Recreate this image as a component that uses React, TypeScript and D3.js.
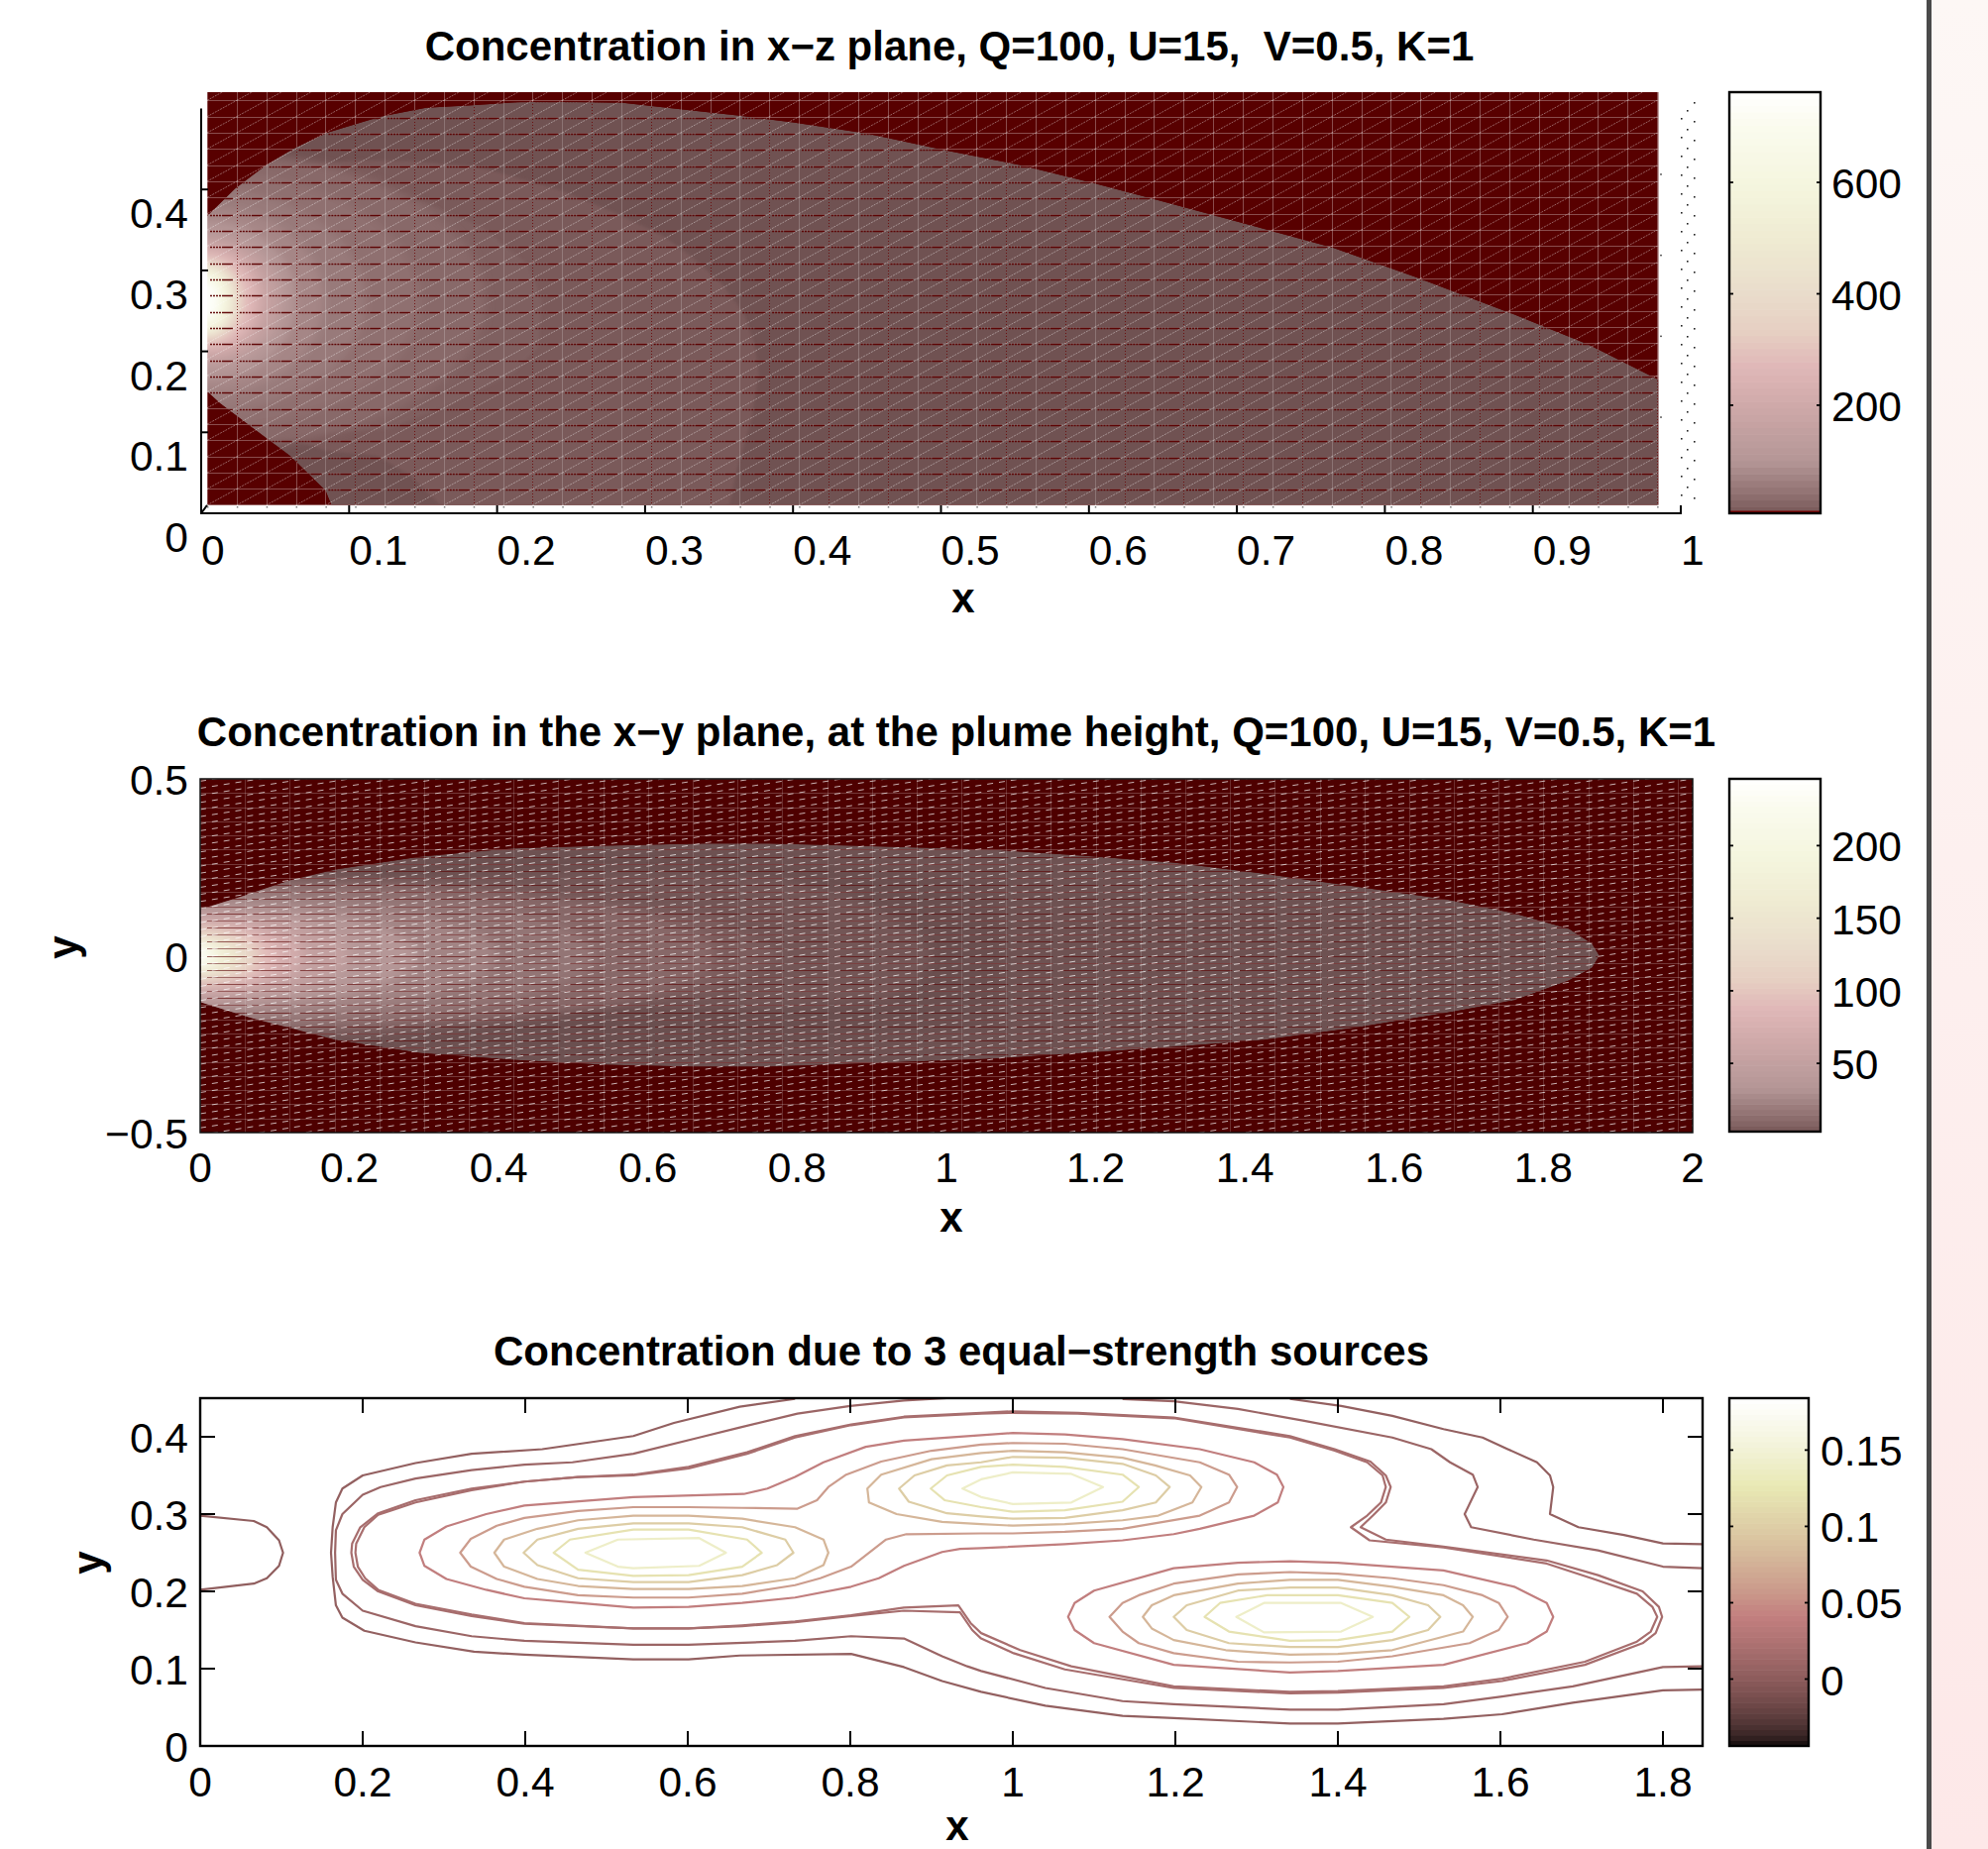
import React from "react";
import * as d3 from "d3";

type Pt = [number, number];

const xzTicksX = [0, 0.1, 0.2, 0.3, 0.4, 0.5, 0.6, 0.7, 0.8, 0.9, 1];
const xzTicksZ = [0.1, 0.2, 0.3, 0.4];
const xyTicksX = [0, 0.2, 0.4, 0.6, 0.8, 1, 1.2, 1.4, 1.6, 1.8, 2];
const xyTicksY = [-0.5, 0, 0.5];
const multiTicksX = [0, 0.2, 0.4, 0.6, 0.8, 1, 1.2, 1.4, 1.6, 1.8];
const multiTicksY = [0, 0.1, 0.2, 0.3, 0.4];
const xzBarTicks = [200, 400, 600];
const xyBarTicks = [50, 100, 150, 200];
const multiBarTicks = [0, 0.05, 0.1, 0.15];

const titleXZ = "Concentration in x\u2212z plane, Q=100, U=15,  V=0.5, K=1";
const titleXY = "Concentration in the x\u2212y plane, at the plume height, Q=100, U=15, V=0.5, K=1";
const titleMulti = "Concentration due to 3 equal\u2212strength sources";

// colour bar of the two surfaces, as fraction of range -> colour
const surfaceStopT = [0, 0.045, 0.124, 0.257, 0.35, 0.43, 0.52, 0.65, 0.785, 0.92, 1];
const surfaceStopColor = ["#785858", "#8f7070", "#b49696", "#cfa9a9", "#e0b8b8", "#e6cfc2", "#e9dccb", "#efebd2", "#f5f6df", "#fafbee", "#ffffff"];

// x-z surface: level regions
const xzPlume: Pt[] = [[0.004,0.367],[0.023,0.401],[0.044,0.43],[0.062,0.45],[0.085,0.47],[0.121,0.49],[0.152,0.501],[0.183,0.504],[0.216,0.508],[0.255,0.508],[0.285,0.507],[0.324,0.499],[0.364,0.491],[0.4,0.483],[0.45,0.469],[0.504,0.448],[0.554,0.43],[0.603,0.408],[0.646,0.387],[0.703,0.359],[0.765,0.328],[0.822,0.291],[0.884,0.248],[0.938,0.208],[0.985,0.165],[0.985,0.01],[0.088,0.01],[0.084,0.028],[0.06,0.071],[0.031,0.111],[0.013,0.136],[0.004,0.151]];
const xzMid: Pt[] = [[0.008,0.371],[0.023,0.389],[0.044,0.414],[0.065,0.43],[0.106,0.436],[0.141,0.435],[0.185,0.428],[0.211,0.416],[0.244,0.398],[0.28,0.371],[0.311,0.344],[0.332,0.316],[0.352,0.283],[0.367,0.246],[0.374,0.209],[0.377,0.173],[0.372,0.116],[0.362,0.055],[0.357,0.01],[0.162,0.01],[0.141,0.047],[0.119,0.071],[0.085,0.077],[0.062,0.092],[0.036,0.104],[0.013,0.136],[0.004,0.15],[0.004,0.367]];
const xzInner: Pt[] = [[0.004,0.361],[0.023,0.383],[0.044,0.401],[0.1,0.393],[0.152,0.383],[0.19,0.353],[0.221,0.307],[0.23,0.263],[0.228,0.206],[0.211,0.173],[0.165,0.132],[0.126,0.104],[0.075,0.099],[0.036,0.12],[0.004,0.155]];
const xzSource = { x: 0.004, z: 0.263 };
const xzHotValue = [30, 40, 55, 75, 100, 150, 200, 270, 400, 600, 740];
const xzHotRx = [0.188, 0.144, 0.107, 0.079, 0.06, 0.05, 0.04, 0.033, 0.024, 0.016, 0.008];
const xzHotRz = [0.184, 0.159, 0.137, 0.116, 0.098, 0.08, 0.07, 0.06, 0.05, 0.04, 0.025];

// x-y surface: level regions
const xyPlume: Pt[] = [[0.001,0.132],[0.065,0.174],[0.12,0.213],[0.181,0.244],[0.295,0.28],[0.417,0.303],[0.539,0.311],[0.675,0.317],[0.762,0.317],[0.878,0.311],[1.06,0.3],[1.182,0.283],[1.304,0.263],[1.425,0.232],[1.547,0.196],[1.669,0.16],[1.761,0.12],[1.834,0.076],[1.865,0.034],[1.875,0],[1.865,-0.034],[1.834,-0.07],[1.761,-0.126],[1.669,-0.162],[1.547,-0.204],[1.425,-0.238],[1.304,-0.258],[1.182,-0.275],[1.06,-0.291],[0.878,-0.305],[0.762,-0.314],[0.662,-0.314],[0.539,-0.308],[0.417,-0.294],[0.295,-0.275],[0.181,-0.238],[0.12,-0.204],[0.065,-0.174],[0.001,-0.132]];
const xyBand: Pt[] = [[0.12,0.2],[0.235,0.244],[0.356,0.269],[0.539,0.283],[0.675,0.28],[0.845,0.252],[1.06,0.21],[1.073,0],[1.06,-0.21],[0.845,-0.244],[0.675,-0.266],[0.539,-0.272],[0.356,-0.252],[0.235,-0.218],[0.12,-0.185]];
const xyMid: Pt[] = [[0,0.11],[0.12,0.18],[0.235,0.21],[0.356,0.23],[0.539,0.238],[0.675,0.232],[0.78,0.215],[0.874,0.168],[0.96,0.07],[0.983,0],[0.96,-0.07],[0.92,-0.126],[0.75,-0.146],[0.412,-0.146],[0.242,-0.13],[0.072,-0.085],[0,-0.11]];
const xyInner: Pt[] = [[0,0.098],[0.12,0.14],[0.303,0.168],[0.529,0.154],[0.69,0.112],[0.78,0],[0.69,-0.098],[0.529,-0.14],[0.303,-0.154],[0.12,-0.13],[0,-0.098]];
const xySource = { x: 0, y: 0 };
const xyHotValue = [10, 16, 24, 34, 50, 70, 90, 110, 130, 160, 200, 240];
const xyHotRx = [0.69, 0.531, 0.398, 0.292, 0.199, 0.139, 0.106, 0.082, 0.066, 0.05, 0.029, 0.013];
const xyHotRy = [0.224, 0.202, 0.174, 0.146, 0.123, 0.101, 0.087, 0.076, 0.064, 0.05, 0.039, 0.022];

// three-source contours, each line as [x, y]
const lobeNearOrigin: Pt[] = [[0,0.298],[0.066,0.291],[0.082,0.283],[0.097,0.266],[0.102,0.25],[0.097,0.233],[0.082,0.217],[0.066,0.21],[0,0.202]];
const outerMain: Pt[] = [[0.732,0.449],[0.664,0.439],[0.583,0.418],[0.533,0.401],[0.421,0.384],[0.334,0.378],[0.265,0.366],[0.2,0.35],[0.175,0.333],[0.167,0.315],[0.163,0.283],[0.161,0.25],[0.163,0.219],[0.167,0.182],[0.175,0.166],[0.202,0.149],[0.265,0.134],[0.337,0.122],[0.399,0.118],[0.533,0.112],[0.601,0.112],[0.664,0.117],[0.801,0.119],[0.866,0.102],[0.913,0.084],[0.961,0.07],[1.04,0.052],[1.135,0.039],[1.198,0.036],[1.341,0.029],[1.4,0.029],[1.53,0.035],[1.602,0.041],[1.689,0.056],[1.8,0.072],[1.851,0.073]];
const outerRight: Pt[] = [[1.341,0.449],[1.404,0.44],[1.467,0.427],[1.53,0.41],[1.578,0.399],[1.609,0.384],[1.645,0.367],[1.661,0.35],[1.665,0.335],[1.661,0.3],[1.696,0.283],[1.752,0.273],[1.8,0.262],[1.851,0.261]];
const secondMain: Pt[] = [[0.919,0.45],[0.866,0.447],[0.8,0.44],[0.735,0.43],[0.664,0.412],[0.614,0.399],[0.533,0.378],[0.458,0.367],[0.399,0.364],[0.334,0.357],[0.265,0.346],[0.222,0.335],[0.2,0.325],[0.175,0.3],[0.167,0.279],[0.166,0.25],[0.167,0.215],[0.175,0.197],[0.2,0.175],[0.265,0.155],[0.334,0.142],[0.399,0.136],[0.533,0.131],[0.601,0.131],[0.732,0.136],[0.801,0.142],[0.866,0.139],[0.913,0.116],[0.944,0.103],[0.961,0.097],[1.04,0.075],[1.135,0.058],[1.198,0.054],[1.341,0.047],[1.4,0.047],[1.53,0.054],[1.602,0.064],[1.689,0.077],[1.8,0.102],[1.851,0.103]];
const secondRight: Pt[] = [[1.135,0.449],[1.198,0.446],[1.277,0.436],[1.357,0.421],[1.467,0.399],[1.515,0.384],[1.538,0.367],[1.566,0.351],[1.572,0.335],[1.556,0.3],[1.564,0.283],[1.641,0.267],[1.72,0.253],[1.8,0.232],[1.851,0.23]];
const pairOuter: Pt[] = [[0.961,0.431],[0.866,0.426],[0.801,0.416],[0.732,0.401],[0.673,0.38],[0.601,0.361],[0.533,0.351],[0.465,0.348],[0.399,0.342],[0.334,0.333],[0.265,0.318],[0.219,0.301],[0.197,0.283],[0.187,0.262],[0.186,0.25],[0.189,0.232],[0.2,0.215],[0.219,0.2],[0.265,0.182],[0.334,0.168],[0.399,0.158],[0.533,0.152],[0.601,0.152],[0.667,0.155],[0.732,0.16],[0.801,0.168],[0.866,0.175],[0.935,0.173],[0.95,0.15],[0.961,0.139],[1.001,0.12],[1.064,0.099],[1.198,0.075],[1.341,0.068],[1.4,0.069],[1.53,0.075],[1.602,0.084],[1.704,0.105],[1.775,0.133],[1.791,0.146],[1.799,0.167],[1.795,0.18],[1.775,0.2],[1.72,0.221],[1.657,0.24],[1.53,0.258],[1.459,0.267],[1.428,0.283],[1.443,0.298],[1.459,0.315],[1.465,0.335],[1.459,0.35],[1.44,0.368],[1.396,0.384],[1.341,0.401],[1.198,0.425],[1.08,0.431],[1,0.433]];
const pairInner: Pt[] = [[0.961,0.43],[0.866,0.425],[0.801,0.415],[0.732,0.399],[0.673,0.378],[0.601,0.359],[0.533,0.35],[0.465,0.348],[0.399,0.342],[0.334,0.331],[0.265,0.315],[0.219,0.299],[0.202,0.283],[0.192,0.262],[0.191,0.25],[0.194,0.232],[0.203,0.217],[0.219,0.202],[0.265,0.184],[0.334,0.17],[0.399,0.159],[0.533,0.152],[0.601,0.152],[0.667,0.156],[0.732,0.161],[0.801,0.169],[0.866,0.179],[0.933,0.182],[0.948,0.159],[0.961,0.146],[1.009,0.124],[1.072,0.103],[1.198,0.077],[1.341,0.07],[1.4,0.071],[1.53,0.077],[1.602,0.087],[1.704,0.109],[1.768,0.135],[1.785,0.148],[1.793,0.167],[1.787,0.18],[1.768,0.197],[1.712,0.217],[1.657,0.236],[1.53,0.257],[1.439,0.266],[1.416,0.283],[1.436,0.298],[1.453,0.315],[1.459,0.335],[1.455,0.35],[1.436,0.367],[1.396,0.382],[1.341,0.399],[1.198,0.424],[1.08,0.43],[1,0.431]];
const dTwoPeaks: Pt[] = [[0.961,0.402],[0.866,0.395],[0.819,0.387],[0.767,0.367],[0.732,0.348],[0.698,0.333],[0.669,0.326],[0.533,0.322],[0.399,0.311],[0.352,0.3],[0.303,0.284],[0.276,0.267],[0.27,0.25],[0.276,0.233],[0.303,0.216],[0.352,0.202],[0.399,0.191],[0.465,0.185],[0.533,0.179],[0.601,0.18],[0.667,0.185],[0.732,0.192],[0.801,0.206],[0.835,0.217],[0.866,0.233],[0.913,0.251],[0.935,0.255],[0.961,0.256],[1.064,0.261],[1.135,0.266],[1.198,0.274],[1.23,0.281],[1.297,0.298],[1.326,0.315],[1.333,0.335],[1.325,0.351],[1.297,0.367],[1.23,0.384],[1.135,0.397],[1.064,0.403],[1,0.405]];
const dThird: Pt[] = [[1.068,0.167],[1.076,0.185],[1.1,0.201],[1.198,0.23],[1.277,0.237],[1.341,0.239],[1.4,0.237],[1.53,0.227],[1.617,0.206],[1.657,0.185],[1.665,0.167],[1.657,0.148],[1.633,0.133],[1.53,0.105],[1.4,0.097],[1.341,0.095],[1.198,0.105],[1.1,0.133],[1.076,0.15]];
const eTwoPeaks: Pt[] = [[0.32,0.25],[0.333,0.268],[0.365,0.285],[0.399,0.295],[0.465,0.304],[0.533,0.309],[0.601,0.309],[0.667,0.308],[0.735,0.307],[0.759,0.318],[0.773,0.335],[0.795,0.351],[0.838,0.368],[0.9,0.382],[0.961,0.39],[1,0.392],[1.064,0.391],[1.135,0.384],[1.23,0.367],[1.266,0.351],[1.276,0.335],[1.266,0.315],[1.23,0.298],[1.135,0.281],[1.064,0.277],[1,0.275],[0.961,0.275],[0.869,0.274],[0.844,0.267],[0.801,0.232],[0.763,0.217],[0.732,0.208],[0.667,0.197],[0.601,0.192],[0.533,0.192],[0.465,0.195],[0.399,0.206],[0.365,0.216],[0.333,0.232]];
const eThird: Pt[] = [[1.119,0.167],[1.135,0.185],[1.155,0.195],[1.198,0.21],[1.277,0.222],[1.341,0.225],[1.4,0.223],[1.467,0.217],[1.53,0.208],[1.578,0.195],[1.598,0.185],[1.609,0.167],[1.598,0.15],[1.562,0.133],[1.467,0.116],[1.4,0.109],[1.341,0.108],[1.277,0.109],[1.198,0.12],[1.155,0.133],[1.135,0.148]];
const fFirst: Pt[] = [[0.362,0.25],[0.374,0.267],[0.415,0.281],[0.465,0.292],[0.533,0.298],[0.601,0.298],[0.667,0.294],[0.732,0.283],[0.767,0.267],[0.773,0.25],[0.767,0.234],[0.732,0.217],[0.667,0.207],[0.601,0.203],[0.533,0.203],[0.465,0.207],[0.415,0.216],[0.374,0.232]];
const fSecond: Pt[] = [[0.821,0.333],[0.838,0.351],[0.9,0.371],[0.961,0.379],[1,0.382],[1.064,0.38],[1.135,0.373],[1.175,0.363],[1.218,0.35],[1.232,0.335],[1.221,0.315],[1.179,0.298],[1.135,0.292],[1.064,0.287],[1,0.285],[0.961,0.287],[0.913,0.29],[0.857,0.3],[0.823,0.315]];
const fThird: Pt[] = [[1.16,0.167],[1.171,0.182],[1.198,0.195],[1.277,0.21],[1.341,0.215],[1.4,0.215],[1.467,0.206],[1.53,0.195],[1.554,0.182],[1.566,0.167],[1.554,0.148],[1.467,0.124],[1.4,0.119],[1.341,0.118],[1.262,0.124],[1.198,0.137],[1.171,0.152]];
const gFirst: Pt[] = [[0.398,0.25],[0.415,0.267],[0.465,0.281],[0.533,0.288],[0.601,0.288],[0.667,0.283],[0.72,0.267],[0.73,0.25],[0.71,0.234],[0.667,0.221],[0.601,0.212],[0.533,0.212],[0.465,0.217],[0.415,0.234]];
const gSecond: Pt[] = [[0.86,0.333],[0.879,0.35],[0.919,0.363],[0.961,0.367],[1,0.374],[1.064,0.373],[1.135,0.365],[1.176,0.35],[1.193,0.335],[1.176,0.315],[1.135,0.305],[1.064,0.295],[1,0.294],[0.961,0.297],[0.919,0.301],[0.872,0.316]];
const gThird: Pt[] = [[1.198,0.167],[1.214,0.182],[1.277,0.201],[1.341,0.205],[1.4,0.205],[1.467,0.195],[1.511,0.182],[1.526,0.167],[1.511,0.15],[1.467,0.137],[1.4,0.128],[1.341,0.128],[1.266,0.133],[1.214,0.15]];
const hFirst: Pt[] = [[0.435,0.25],[0.455,0.267],[0.533,0.28],[0.601,0.28],[0.673,0.267],[0.691,0.25],[0.667,0.232],[0.601,0.221],[0.533,0.22],[0.465,0.228]];
const hSecond: Pt[] = [[0.899,0.333],[0.919,0.35],[0.961,0.361],[1,0.364],[1.064,0.361],[1.135,0.351],[1.155,0.335],[1.135,0.316],[1.064,0.305],[1,0.303],[0.961,0.309],[0.916,0.318]];
const hThird: Pt[] = [[1.236,0.167],[1.255,0.185],[1.313,0.195],[1.4,0.195],[1.467,0.185],[1.488,0.167],[1.467,0.148],[1.4,0.137],[1.341,0.136],[1.266,0.148]];
const iFirst: Pt[] = [[0.474,0.25],[0.514,0.267],[0.614,0.269],[0.647,0.25],[0.614,0.233],[0.533,0.23],[0.514,0.232]];
const iSecond: Pt[] = [[0.938,0.333],[0.961,0.345],[1,0.354],[1.072,0.352],[1.111,0.335],[1.072,0.315],[1,0.313],[0.961,0.322]];
const iThird: Pt[] = [[1.275,0.167],[1.309,0.185],[1.404,0.185],[1.443,0.167],[1.404,0.148],[1.309,0.147]];

const openContours: { level: number; line: Pt[] }[] = [
  { level: 0.003, line: lobeNearOrigin },
  { level: 0.005, line: outerMain },
  { level: 0.005, line: outerRight },
  { level: 0.01, line: secondMain },
  { level: 0.01, line: secondRight },
];
const closedContours: { level: number; line: Pt[] }[] = [
  { level: 0.019, line: pairOuter },
  { level: 0.02, line: pairInner },
  { level: 0.04, line: dTwoPeaks },
  { level: 0.04, line: dThird },
  { level: 0.06, line: eTwoPeaks },
  { level: 0.06, line: eThird },
  { level: 0.08, line: fFirst },
  { level: 0.08, line: fSecond },
  { level: 0.08, line: fThird },
  { level: 0.1, line: gFirst },
  { level: 0.1, line: gSecond },
  { level: 0.1, line: gThird },
  { level: 0.12, line: hFirst },
  { level: 0.12, line: hSecond },
  { level: 0.12, line: hThird },
  { level: 0.14, line: iFirst },
  { level: 0.14, line: iSecond },
  { level: 0.14, line: iThird },
];

const FONT = "'Liberation Sans', Arial, Helvetica, sans-serif";
const TICK_SIZE = 42.5;
const TITLE_SIZE = 42;

const surfaceColor = d3.scaleLinear<string>().domain(surfaceStopT).range(surfaceStopColor).clamp(true);

function pinkColor(t: number): string {
  const hotR = Math.min(1, t / 0.375);
  const hotG = t < 0.375 ? 0 : Math.min(1, (t - 0.375) / 0.375);
  const hotB = t < 0.75 ? 0 : (t - 0.75) / 0.25;
  const mix = (h: number) => Math.round(255 * Math.sqrt((2 * t + h) / 3));
  return `rgb(${mix(hotR)},${mix(hotG)},${mix(hotB)})`;
}

function Colorbar(props: { x: number; w: number; top: number; bottom: number; domain: [number, number]; ticks: number[]; color: (t: number) => string; base?: string; labelX: number }) {
  const { x, w, top, bottom, domain, ticks, color, base, labelX } = props;
  const y = d3.scaleLinear().domain(domain).range([bottom, top]);
  const steps = d3.range(64);
  const h = (bottom - top) / 64;
  return (
    <g>
      {steps.map((i) => (
        <rect key={i} x={x} y={bottom - (i + 1) * h} width={w} height={h + 0.6} fill={color((i + 0.5) / 64)} />
      ))}
      {base && <rect x={x} y={bottom - 2.5} width={w} height={2.5} fill={base} />}
      {ticks.map((t) => (
        <g key={t}>
          <line x1={x} x2={x + 4} y1={y(t)} y2={y(t)} stroke="#000" strokeWidth={1.8} />
          <line x1={x + w - 4} x2={x + w} y1={y(t)} y2={y(t)} stroke="#000" strokeWidth={1.8} />
          <text x={labelX} y={y(t) + 16} fontSize={TICK_SIZE} fontFamily={FONT}>{String(t)}</text>
        </g>
      ))}
      <rect x={x} y={top} width={w} height={bottom - top} fill="none" stroke="#000" strokeWidth={2.4} />
    </g>
  );
}

function segments(list: [number, number, number, number][]): string {
  const p = d3.path();
  list.forEach(([a, b, c, d]) => { p.moveTo(a, b); p.lineTo(c, d); });
  return p.toString();
}

function PanelXZ() {
  const x = d3.scaleLinear().domain([0, 1]).range([203, 1696]);
  const z = d3.scaleLinear().domain([0, 0.5]).range([518, 109.5]);
  const surfX = [0.004, 0.985];
  const surfZ = [0.01, 0.5202];
  const x0 = x(surfX[0]), x1 = x(surfX[1]), y0 = z(surfZ[1]), y1 = z(surfZ[0]);
  const columns = d3.range(surfX[0], surfX[1] + 0.001, 0.02);
  const rows = d3.range(surfZ[0], surfZ[1] + 0.001, 0.02);
  const line = d3.line<Pt>().x((d) => x(d[0])).y((d) => z(d[1]));
  const plumePath = line(xzPlume) + "Z";
  const snap = (v: number) => Math.round(v) + 0.5;
  const rowsPath = segments(rows.map((r) => [x0, snap(z(r)), x1, snap(z(r))]));
  const colsPath = segments(columns.map((c) => [snap(x(c)), y0, snap(x(c)), y1]));
  const evenCols = segments(columns.filter((_, i) => i % 2 === 0).map((c) => [snap(x(c)), y0, snap(x(c)), y1]));
  const oddCols = segments(columns.filter((_, i) => i % 2 === 1).map((c) => [snap(x(c)), y0, snap(x(c)), y1]));
  const diags: [number, number, number, number][] = [];
  columns.slice(0, -1).forEach((c) => rows.forEach((r) => diags.push([x(c), z(r), x(c + 0.02), z(r + 0.02)])));
  const darkRows = segments(rows.map((r) => [x0 + 3, snap(z(r)) + 1, x1, snap(z(r)) + 1]));
  const dotX = [1696, 1702, 1709];
  const dotStart = [119, 111, 103];
  const toT = (v: number) => (v - 6) / 756;
  const baseFill = (d3.color(surfaceColor(0)) as d3.RGBColor).darker(0.2).formatHex();
  return (
    <g>
      <defs>
        <clipPath id="xzSurf"><rect x={x0} y={y0} width={x1 - x0} height={y1 - y0} /></clipPath>
        <clipPath id="xzPlumeClip"><path d={plumePath} /></clipPath>
        <filter id="xzBlur" x="-30%" y="-30%" width="160%" height="160%"><feGaussianBlur stdDeviation="5" /></filter>
        <filter id="xzSoft" x="-5%" y="-5%" width="110%" height="110%"><feGaussianBlur stdDeviation="1.5" /></filter>
      </defs>
      <g clipPath="url(#xzSurf)">
        <rect x={x0} y={y0} width={x1 - x0} height={y1 - y0} fill="#580000" />
        <path d={rowsPath} stroke="#fff" strokeOpacity={0.3} fill="none" strokeWidth={1} />
        <path d={colsPath} stroke="#fff" strokeOpacity={0.3} fill="none" strokeWidth={1} />
        <g clipPath="url(#xzPlumeClip)">
          <path d={plumePath} fill={baseFill} />
          <path d={line(xzMid) + "Z"} fill={surfaceColor(toT(9))} filter="url(#xzSoft)" />
          <path d={line(xzInner) + "Z"} fill={surfaceColor(toT(17))} filter="url(#xzSoft)" />
          <g filter="url(#xzBlur)">
            {xzHotValue.map((v, i) => (
              <ellipse key={v} cx={x(xzSource.x)} cy={z(xzSource.z)} rx={x(xzHotRx[i]) - x(0)} ry={z(0) - z(xzHotRz[i])} fill={surfaceColor(toT(v))} />
            ))}
          </g>
          <path d={rowsPath} stroke="#fff" strokeOpacity={0.1} fill="none" strokeWidth={1} />
          <path d={darkRows} stroke="#5c0000" strokeOpacity={0.95} fill="none" strokeWidth={1.5} strokeDasharray="2 1 2 1 2 1 2 1 11 6.85" />
          <path d={evenCols} stroke="#fff" strokeOpacity={0.2} fill="none" strokeWidth={1} />
          <path d={oddCols} stroke="#6a0000" strokeOpacity={0.8} fill="none" strokeWidth={1} strokeDasharray="1 2" />
        </g>
        <path d={segments(diags)} stroke="#fff" strokeOpacity={0.38} fill="none" strokeWidth={1} strokeDasharray="2 1" />
      </g>
      <g fill="#222">
        {dotX.map((dx, k) => d3.range(dotStart[k], 505, 19).map((dy) => <rect key={`${k}-${dy}`} x={dx} y={dy} width={1.6} height={1.6} />))}
        {xzTicksZ.map((t) => <rect key={t} x={1675} y={z(t) - 16} width={2} height={1.5} opacity={0.7} />)}
        {columns.map((c) => <rect key={c} x={x(c)} y={511} width={1.5} height={1.5} opacity={0.6} />)}
      </g>
      <path d={`M${x(0)},${z(0.5)} L${x(0)},${z(0)} L${x(1)},${z(0)} L${x(1)},${z(0) - 8} M${x(0)},${z(0)} L${x0},${y1}`} fill="none" stroke="#000" strokeWidth={2} />
      {xzTicksX.slice(1, -1).map((t) => <line key={t} x1={x(t)} x2={x(t)} y1={z(0)} y2={z(0) - 8} stroke="#000" strokeWidth={2} />)}
      {xzTicksZ.map((t) => <line key={t} x1={x(0)} x2={x(0) + 7} y1={z(t)} y2={z(t)} stroke="#000" strokeWidth={2} />)}
      {xzTicksX.map((t) => <text key={t} x={x(t)} y={570} fontSize={TICK_SIZE} fontFamily={FONT}>{String(t)}</text>)}
      {xzTicksZ.map((t) => <text key={t} x={190} y={z(t) + 39} textAnchor="end" fontSize={TICK_SIZE} fontFamily={FONT}>{String(t)}</text>)}
      <text x={190} y={z(0) + 39} textAnchor="end" fontSize={TICK_SIZE} fontFamily={FONT}>0</text>
      <text x={972} y={618} textAnchor="middle" fontSize={TITLE_SIZE} fontWeight="bold" fontFamily={FONT}>x</text>
      <text x={958} y={61} textAnchor="middle" fontSize={TITLE_SIZE} fontWeight="bold" fontFamily={FONT} xmlSpace="preserve" style={{ whiteSpace: "pre" }}>{titleXZ}</text>
      <Colorbar x={1745} w={92} top={93} bottom={518} domain={[6, 762]} ticks={xzBarTicks} color={surfaceColor} base="#7a0000" labelX={1848} />
    </g>
  );
}

function PanelXY() {
  const x = d3.scaleLinear().domain([0, 2]).range([202, 1708]);
  const y = d3.scaleLinear().domain([-0.5, 0.5]).range([1143, 786]);
  const columns = d3.range(0, 2.001, 0.06);
  const rows = d3.range(-0.5, 0.5001, 0.02);
  const lightRows = rows.filter((_, i) => i % 2 === 0);
  const line = d3.line<Pt>().x((d) => x(d[0])).y((d) => y(d[1]));
  const plumePath = line(xyPlume) + "Z";
  const snap = (v: number) => Math.round(v) + 0.5;
  const rowsPath = segments(lightRows.map((r) => [x(0), snap(y(r)), x(2), snap(y(r))]));
  const colsPath = segments(columns.map((c) => [snap(x(c)), y(-0.5), snap(x(c)), y(0.5)]));
  const rise = (2 / 0.06) * 0.02;
  const diags: [number, number, number, number][] = d3.range(-0.5 - rise, 0.5001, 0.02).map((r) => [x(0), y(r), x(2), y(r + rise)]);
  const toT = (v: number) => (v - 3) / 243;
  return (
    <g>
      <defs>
        <clipPath id="xySurf"><rect x={x(0)} y={y(0.5)} width={x(2) - x(0)} height={y(-0.5) - y(0.5)} /></clipPath>
        <clipPath id="xyPlumeClip"><path d={plumePath} /></clipPath>
        <filter id="xyBlur" x="-30%" y="-30%" width="160%" height="160%"><feGaussianBlur stdDeviation="6" /></filter>
        <filter id="xySoft" x="-8%" y="-8%" width="116%" height="116%"><feGaussianBlur stdDeviation="5" /></filter>
      </defs>
      <g clipPath="url(#xySurf)">
        <rect x={x(0)} y={y(0.5)} width={x(2) - x(0)} height={y(-0.5) - y(0.5)} fill="#4e0000" />
        <path d={rowsPath} stroke="#fff" strokeOpacity={0.22} fill="none" strokeWidth={1} />
        <path d={colsPath} stroke="#fff" strokeOpacity={0.18} fill="none" strokeWidth={1} />
        <g clipPath="url(#xyPlumeClip)">
          <path d={plumePath} fill="#6e5252" />
          <path d={line(xyBand) + "Z"} fill="#6a4f4f" filter="url(#xySoft)" />
          <path d={line(xyMid) + "Z"} fill="#735656" filter="url(#xySoft)" />
          <path d={line(xyInner) + "Z"} fill="#7b5d5d" filter="url(#xySoft)" />
          <g filter="url(#xyBlur)">
            {xyHotValue.map((v, i) => (
              <ellipse key={v} cx={x(xySource.x)} cy={y(xySource.y)} rx={x(xyHotRx[i]) - x(0)} ry={y(0) - y(xyHotRy[i])} fill={surfaceColor(toT(v))} />
            ))}
          </g>
          <path d={segments(rows.map((r) => [x(0) + 7, snap(y(r)), x(2), snap(y(r))]))} stroke="#5a0000" strokeOpacity={0.6} fill="none" strokeWidth={1} strokeDasharray="40 5.2" />
          <path d={rowsPath} stroke="#fff" strokeOpacity={0.14} fill="none" strokeWidth={1} />
          <path d={colsPath} stroke="#fff" strokeOpacity={0.14} fill="none" strokeWidth={1} />
        </g>
        <path d={segments(diags)} stroke="#fff" strokeOpacity={0.7} fill="none" strokeWidth={1} strokeDasharray="6 6" />
      </g>
      <rect x={x(0)} y={y(0.5)} width={x(2) - x(0)} height={y(-0.5) - y(0.5)} fill="none" stroke="#111" strokeWidth={1.5} />
      {xyTicksX.map((t) => <text key={t} x={x(t)} y={1193} textAnchor="middle" fontSize={TICK_SIZE} fontFamily={FONT}>{String(t)}</text>)}
      {xyTicksY.map((t) => <text key={t} x={190} y={y(t) + 16} textAnchor="end" fontSize={TICK_SIZE} fontFamily={FONT}>{t < 0 ? `\u2212${-t}` : String(t)}</text>)}
      <text x={960} y={1243} textAnchor="middle" fontSize={TITLE_SIZE} fontWeight="bold" fontFamily={FONT}>x</text>
      <text transform="translate(78,956) rotate(-90)" textAnchor="middle" fontSize={TITLE_SIZE} fontWeight="bold" fontFamily={FONT}>y</text>
      <text x={965} y={753} textAnchor="middle" fontSize={TITLE_SIZE} fontWeight="bold" fontFamily={FONT}>{titleXY}</text>
      <Colorbar x={1745} w={92} top={786} bottom={1142} domain={[3, 246]} ticks={xyBarTicks} color={surfaceColor} labelX={1848} />
    </g>
  );
}

function PanelMulti() {
  const x = d3.scaleLinear().domain([0, 1]).range([202, 1022]);
  const y = d3.scaleLinear().domain([0, 0.4]).range([1762, 1450]);
  const right = 1718, top = 1411, bottom = 1762;
  const color = (v: number) => pinkColor((v + 0.0438) / (0.184 + 0.0438));
  const line = d3.line<Pt>().x((d) => x(d[0])).y((d) => y(d[1]));
  return (
    <g>
      <defs><clipPath id="multiClip"><rect x={202} y={top} width={right - 202} height={bottom - top} /></clipPath></defs>
      <g clipPath="url(#multiClip)" fill="none" strokeWidth={2.2} strokeLinejoin="round">
        {openContours.map((c, i) => <path key={i} d={line(c.line) as string} stroke={color(c.level)} />)}
        {closedContours.map((c, i) => <path key={i} d={(line(c.line) as string) + "Z"} stroke={color(c.level)} />)}
      </g>
      <rect x={202} y={top} width={right - 202} height={bottom - top} fill="none" stroke="#000" strokeWidth={2.4} />
      {multiTicksX.slice(1).map((t) => (
        <g key={t}>
          <line x1={x(t)} x2={x(t)} y1={top} y2={top + 15} stroke="#000" strokeWidth={2} />
          <line x1={x(t)} x2={x(t)} y1={bottom} y2={bottom - 15} stroke="#000" strokeWidth={2} />
        </g>
      ))}
      {multiTicksY.slice(1).map((t) => (
        <g key={t}>
          <line x1={202} x2={217} y1={y(t)} y2={y(t)} stroke="#000" strokeWidth={2} />
          <line x1={right} x2={right - 15} y1={y(t)} y2={y(t)} stroke="#000" strokeWidth={2} />
        </g>
      ))}
      {multiTicksX.map((t) => <text key={t} x={x(t)} y={1813} textAnchor="middle" fontSize={TICK_SIZE} fontFamily={FONT}>{String(t)}</text>)}
      {multiTicksY.map((t) => <text key={t} x={190} y={y(t) + 16} textAnchor="end" fontSize={TICK_SIZE} fontFamily={FONT}>{String(t)}</text>)}
      <text x={966} y={1857} textAnchor="middle" fontSize={TITLE_SIZE} fontWeight="bold" fontFamily={FONT}>x</text>
      <text transform="translate(103,1577) rotate(-90)" textAnchor="middle" fontSize={TITLE_SIZE} fontWeight="bold" fontFamily={FONT}>y</text>
      <text x={970} y={1378} textAnchor="middle" fontSize={TITLE_SIZE} fontWeight="bold" fontFamily={FONT}>{titleMulti}</text>
      <Colorbar x={1745} w={80} top={1411} bottom={1762} domain={[-0.0438, 0.184]} ticks={multiBarTicks} color={pinkColor} labelX={1837} />
    </g>
  );
}

export default function App() {
  return (
    <svg width={2006} height={1866} viewBox="0 0 2006 1866" style={{ position: "absolute", left: 0, top: 0, display: "block", background: "#fff" }}>
      <defs>
        <linearGradient id="sideBg" x1="0" x2="0" y1="0" y2="1">
          <stop offset="0" stopColor="#fdf7f5" />
          <stop offset="1" stopColor="#fde8e8" />
        </linearGradient>
      </defs>
      <rect x={1949} y={0} width={57} height={1866} fill="url(#sideBg)" />
      <rect x={1944} y={0} width={5} height={1866} fill="#4a4a4a" />
      <PanelXZ />
      <PanelXY />
      <PanelMulti />
    </svg>
  );
}
